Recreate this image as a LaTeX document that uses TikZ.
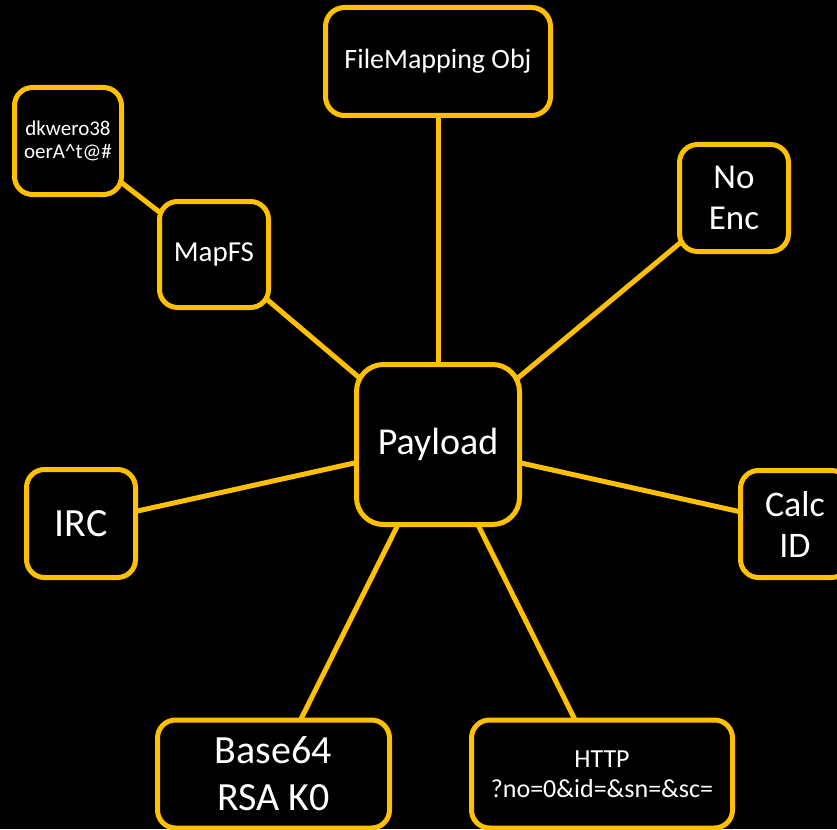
\documentclass[tikz,border=0pt]{standalone}
\usepackage{fontspec}
\setmainfont{Carlito}
\usetikzlibrary{backgrounds}
\definecolor{gold}{HTML}{FFC000}
\begin{document}
\begin{tikzpicture}[x=1pt,y=-1pt,
  box/.style={draw=gold, line width=5pt, fill=black, text=white, align=center,
    inner sep=0pt, outer sep=0pt, rounded corners=#1},
  box/.default=18pt,
  link/.style={draw=gold, line width=5pt}]
\useasboundingbox (0,0) rectangle (837,829);
\begin{pgfonlayer}{background}
  \fill[black] (0,0) rectangle (837,829);
\end{pgfonlayer}

\node[box=27pt, minimum width=163pt, minimum height=160pt,
  font=\fontsize{38}{46}\selectfont] (pay) at (438,444.5) {Payload};
\node[box=19pt, minimum width=225pt, minimum height=108pt,
  font=\fontsize{28}{34}\selectfont] (fmo) at (438,61.5) {FileMapping Obj};
\node[box, minimum width=107pt, minimum height=107pt,
  font=\fontsize{21}{23}\selectfont] (dk) at (68,141) {dkwero38\\oerA\textasciicircum t@\#};
\node[box, minimum width=109pt, minimum height=106pt,
  font=\fontsize{29}{35}\selectfont] (mfs) at (214,254.5) {MapFS};
\node[box, minimum width=109pt, minimum height=107pt,
  font=\fontsize{35}{41}\selectfont] (enc) at (734,198) {No\\Enc};
\node[box, minimum width=109pt, minimum height=107pt,
  font=\fontsize{36}{41}\selectfont] (calc) at (795,524) {Calc\\ID};
\node[box, minimum width=109pt, minimum height=108pt,
  font=\fontsize{40}{48}\selectfont] (irc) at (81,523.5) {IRC};
\node[box, minimum width=232pt, minimum height=108pt,
  font=\fontsize{40}{47}\selectfont] (b64) at (273.5,774) {Base64\\RSA K0};
\node[box, minimum width=261pt, minimum height=108pt,
  font=\fontsize{26}{30}\selectfont] (http) at (602,774) {HTTP\\?no=0\&id=\&sn=\&sc=};

\begin{pgfonlayer}{background}
  \draw[link] (dk.center) -- (mfs.center);
  \draw[link] (mfs.center) -- (pay.center);
  \draw[link] (fmo.center) -- (pay.center);
  \draw[link] (enc.center) -- (pay.center);
  \draw[link] (calc.center) -- (pay.center);
  \draw[link] (irc.center) -- (pay.center);
  \draw[link] (b64.center) -- (pay.center);
  \draw[link] (http.center) -- (pay.center);
\end{pgfonlayer}
\end{tikzpicture}
\end{document}
